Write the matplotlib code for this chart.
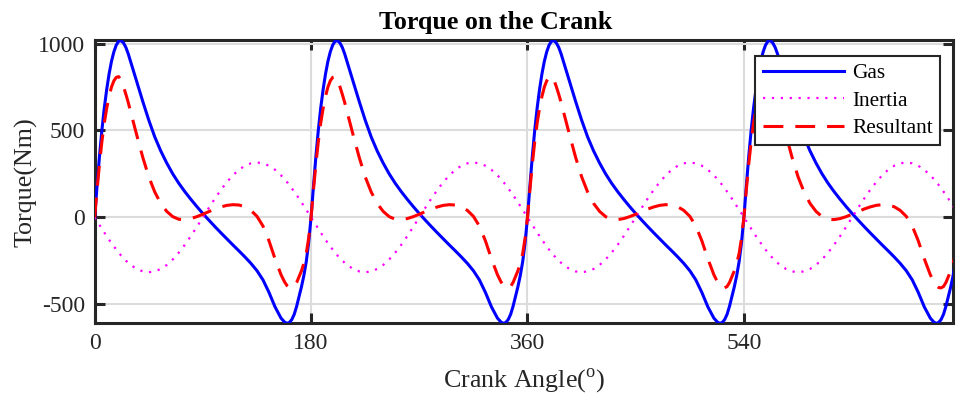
import numpy as np
import matplotlib
matplotlib.use("Agg")
from matplotlib import pyplot as plt

plt.rcParams['font.family'] = ['Liberation Serif', 'DejaVu Serif']
plt.rcParams['mathtext.fontset'] = 'custom'
plt.rcParams['mathtext.rm'] = 'Liberation Serif'
plt.rcParams['axes.unicode_minus'] = False

# one 180 deg cycle (the curves repeat every 180 deg)
angle = [0, 2, 4, 6, 8, 10, 12, 14, 16, 18, 20, 22, 24, 26, 28, 30, 35, 40, 45, 50,
         55, 60, 65, 70, 75, 80, 85, 90, 95, 100, 105, 110, 115, 120, 125, 130, 135,
         140, 145, 150, 155, 158, 160, 162, 164, 166, 168, 170, 172, 174, 176, 178]
gas = [0, 180, 350, 500, 628, 735, 825, 898, 953, 992, 1014, 1017, 1004, 978, 940, 895,
       782, 668, 560, 463, 382, 312, 250, 196, 148, 104, 62, 22, -16, -53, -89, -124,
       -159, -193, -228, -265, -307, -360, -432, -515, -580, -603, -610, -605, -588,
       -558, -512, -455, -400, -335, -255, -145]
inertia = [0, -22, -44, -66, -87, -108, -129, -148, -167, -186, -203, -220, -235, -249,
           -262, -274, -297, -311, -316, -311, -297, -274, -242, -203, -158, -108, -55,
           0, 55, 108, 158, 203, 242, 274, 297, 311, 316, 311, 297, 274, 242, 220, 203,
           186, 167, 148, 129, 108, 87, 66, 44, 22]
resultant = [0, 158, 306, 434, 541, 627, 696, 750, 786, 806, 810, 790, 752, 708, 660,
             606, 474, 346, 234, 146, 80, 34, 4, -11, -13, -7, 4, 18, 33, 48, 60, 69,
             73, 71, 61, 40, 6, -50, -135, -238, -330, -372, -393, -404, -406, -398,
             -375, -342, -308, -265, -208, -120]
n_cycles = 4

theta = np.concatenate([np.array(angle) + 180 * k for k in range(n_cycles)] + [[180 * n_cycles]])
T_gas = np.concatenate([gas] * n_cycles + [[0]])
T_in = np.concatenate([inertia] * n_cycles + [[0]])
T_res = np.concatenate([resultant] * n_cycles + [[0]])

fig = plt.figure(figsize=(9.56, 3.97), dpi=100)
ax = fig.add_axes([0.099, 0.186, 0.898, 0.712])

ax.plot(theta, T_gas, color=(0, 0, 1), lw=2.2, label="Gas", zorder=3)
ax.plot(theta, T_in, color=(1, 0, 1), lw=1.6, dashes=(1, 3), label="Inertia", zorder=3)
ax.plot(theta, T_res, color=(1, 0, 0), lw=2.2, dashes=(6.5, 3.9), label="Resultant", zorder=3)

ax.set_xlim(0, 714)
ax.set_ylim(-609, 1018)
ax.set_xticks([0, 180, 360, 540])
ax.set_yticks([-500, 0, 500, 1000])
ax.grid(True, color="#dcdcdc", lw=1.5)
ax.set_axisbelow(True)

for s in ax.spines.values():
    s.set_linewidth(2.2)
    s.set_color("#262626")
ax.tick_params(direction="in", length=7, width=2.2, top=True, right=True,
               labelsize=17, colors="#262626", pad=7)

ax.set_title("Torque on the Crank", fontsize=18.7, fontweight="bold", x=0.467, pad=8)
ax.set_xlabel(r"Crank Angle($^\mathrm{o}$)", fontsize=18.7, color="#262626", labelpad=9)
ax.set_ylabel("Torque(Nm)", fontsize=18.7, color="#262626", labelpad=0)

leg = ax.legend(loc="upper right", bbox_to_anchor=(0.985, 0.945), borderaxespad=0,
                fontsize=15.3, fancybox=False, framealpha=1, edgecolor="#262626",
                handlelength=3.8, labelspacing=0.35, borderpad=0.35, handletextpad=0.4)
leg.get_frame().set_linewidth(1.5)

plt.savefig("out.png", dpi=100)
